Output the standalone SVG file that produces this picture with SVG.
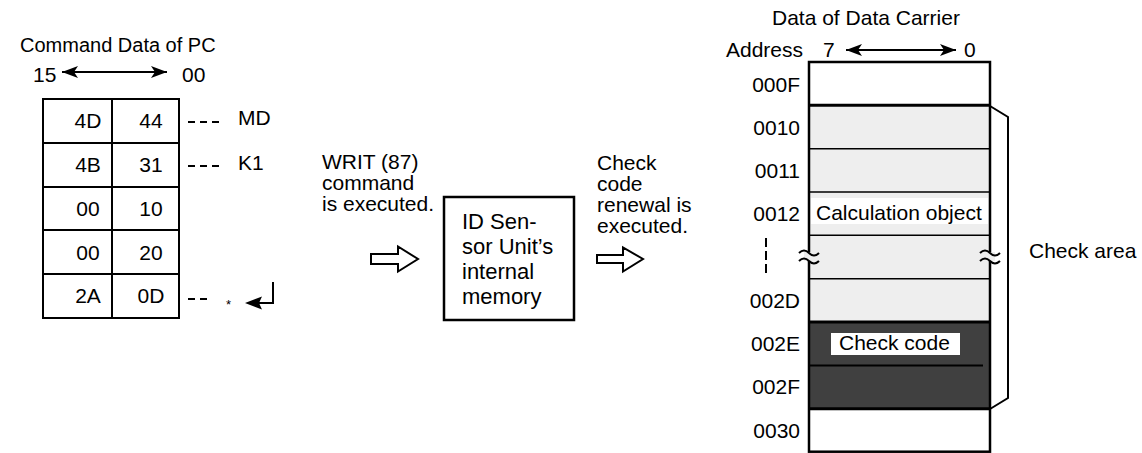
<svg xmlns="http://www.w3.org/2000/svg" width="1142" height="453" viewBox="0 0 1142 453">
<style>
text{font-family:"Liberation Sans",Arial,sans-serif;font-size:21px;fill:#000}
.c{text-anchor:middle}
.e{text-anchor:end}
.big{font-size:22px}
.ln{stroke:#000;fill:none}
.cell{fill:#fff;stroke:#000;stroke-width:2}
</style>
<defs>
<marker id="ah" viewBox="0 0 16 12" refX="16" refY="6" markerWidth="16" markerHeight="12" markerUnits="userSpaceOnUse" orient="auto-start-reverse">
<path d="M0,0 L16,6 L0,12 L4,6 z" fill="#000"/>
</marker>
</defs>
<rect width="1142" height="453" fill="#fff"/>

<g id="pc-data">
<text x="20" y="52" style="font-size:20px">Command Data of PC</text>
<text x="33" y="82">15</text>
<text x="182" y="82">00</text>
<g id="pc-table">
<rect class="cell" x="43" y="99" width="69" height="44"/><rect class="cell" x="112" y="99" width="67" height="44"/>
<rect class="cell" x="43" y="143" width="69" height="44"/><rect class="cell" x="112" y="143" width="67" height="44"/>
<rect class="cell" x="43" y="187" width="69" height="43"/><rect class="cell" x="112" y="187" width="67" height="43"/>
<rect class="cell" x="43" y="230" width="69" height="44"/><rect class="cell" x="112" y="230" width="67" height="44"/>
<rect class="cell" x="43" y="274" width="69" height="44"/><rect class="cell" x="112" y="274" width="67" height="44"/>
<text class="c" x="88" y="128">4D</text><text class="c" x="151" y="128">44</text>
<text class="c" x="88" y="172">4B</text><text class="c" x="151" y="172">31</text>
<text class="c" x="88" y="216">00</text><text class="c" x="151" y="216">10</text>
<text class="c" x="88" y="260">00</text><text class="c" x="151" y="260">20</text>
<text class="c" x="88" y="303">2A</text><text class="c" x="151" y="303">0D</text>
</g>
<text x="238" y="125">MD</text>
<text x="238" y="170">K1</text>
<text x="226" y="309" style="font-size:13px">*</text>
</g>

<g id="writ-label">
<text x="322" y="169">WRIT (87)</text>
<text x="322" y="190">command</text>
<text x="322" y="211">is executed.</text>
</g>

<g id="id-sensor">
<rect x="444" y="197" width="130" height="123" fill="#fff" stroke="#000" stroke-width="2.5"/>
<text class="big" x="462" y="228.5">ID Sen-</text>
<text class="big" x="462" y="253.5">sor Unit’s</text>
<text class="big" x="462" y="278.5">internal</text>
<text class="big" x="462" y="303.5">memory</text>
</g>

<g id="check-label">
<text x="597" y="170">Check</text>
<text x="597" y="191">code</text>
<text x="597" y="212">renewal is</text>
<text x="597" y="233">executed.</text>
</g>

<g id="data-carrier">
<text x="772" y="25">Data of Data Carrier</text>
<text class="e" x="803" y="57">Address</text>
<text x="823" y="57">7</text>
<text x="964" y="57">0</text>
<rect x="809" y="62" width="181" height="43.3" fill="#fff"/>
<rect x="809" y="105.3" width="181" height="216.7" fill="#eeeeee"/>
<rect x="809" y="322" width="181" height="86.7" fill="#404040"/>
<rect x="809" y="408.7" width="181" height="43.3" fill="#fff"/>
<g class="ln">
<line x1="809" y1="148.7" x2="990" y2="148.7" stroke-width="1.5"/>
<line x1="809" y1="192" x2="990" y2="192" stroke-width="1.5"/>
<line x1="809" y1="235.3" x2="990" y2="235.3" stroke-width="1.5"/>
<line x1="809" y1="278.7" x2="990" y2="278.7" stroke-width="1.5"/>
<line x1="809" y1="365.5" x2="983" y2="365.5" stroke-width="2"/>
<line x1="809" y1="105.3" x2="990" y2="105.3" stroke-width="3"/>
<line x1="809" y1="322" x2="990" y2="322" stroke-width="3"/>
<line x1="809" y1="408.7" x2="990" y2="408.7" stroke-width="3"/>
<rect x="809" y="62" width="181" height="389.7" stroke-width="2.5"/>
</g>
<rect x="811" y="198" width="177" height="26" fill="#fff"/>
<text x="816" y="220">Calculation object</text>
<rect x="831" y="333" width="129" height="22" fill="#fff"/>
<text x="839" y="350">Check code</text>
<g id="breaks" class="ln" stroke-width="2">
<rect x="804" y="252" width="10" height="9" fill="#eeeeee" stroke="none"/>
<rect x="985" y="252" width="10" height="9" fill="#eeeeee" stroke="none"/>
<path d="M799,253 q5,-5 10,0 t10,0 M799,261 q5,-5 10,0 t10,0"/>
<path d="M980,253 q5,-5 10,0 t10,0 M980,261 q5,-5 10,0 t10,0"/>
</g>
<text class="e" x="800" y="92">000F</text>
<text class="e" x="800" y="135">0010</text>
<text class="e" x="800" y="178">0011</text>
<text class="e" x="800" y="221">0012</text>
<text class="e" x="800" y="308">002D</text>
<text class="e" x="800" y="351">002E</text>
<text class="e" x="800" y="394">002F</text>
<text class="e" x="800" y="438">0030</text>
<text x="1029" y="258">Check area</text>
</g>

<g id="connectors">
<line class="ln" x1="62" y1="72" x2="167" y2="72" stroke-width="2" marker-start="url(#ah)" marker-end="url(#ah)"/>
<line class="ln" x1="846" y1="50" x2="956" y2="50" stroke-width="2" marker-start="url(#ah)" marker-end="url(#ah)"/>
<line class="ln" x1="188" y1="122" x2="220" y2="122" stroke-width="2" stroke-dasharray="7 5"/>
<line class="ln" x1="188" y1="166" x2="220" y2="166" stroke-width="2" stroke-dasharray="7 5"/>
<line class="ln" x1="188" y1="299" x2="208" y2="299" stroke-width="2" stroke-dasharray="7 5"/>
<polyline class="ln" points="258,303 273,303 273,282" stroke-width="2"/>
<path d="M245,303 L262,296.5 L259,303 L262,309.5 z" fill="#000"/>
<polygon points="371,254 398,254 398,246.5 418,259 398,271.5 398,264 371,264" fill="#fff" stroke="#000" stroke-width="2"/>
<polygon points="597,255 623,255 623,247.5 643,259 623,271.5 623,263 597,263" fill="#fff" stroke="#000" stroke-width="2"/>
<line class="ln" x1="766" y1="238" x2="766" y2="273" stroke-width="2" stroke-dasharray="9 4"/>
<polyline class="ln" points="990,106 1008,117 1008,398 990,409" stroke-width="2"/>
</g>
</svg>
